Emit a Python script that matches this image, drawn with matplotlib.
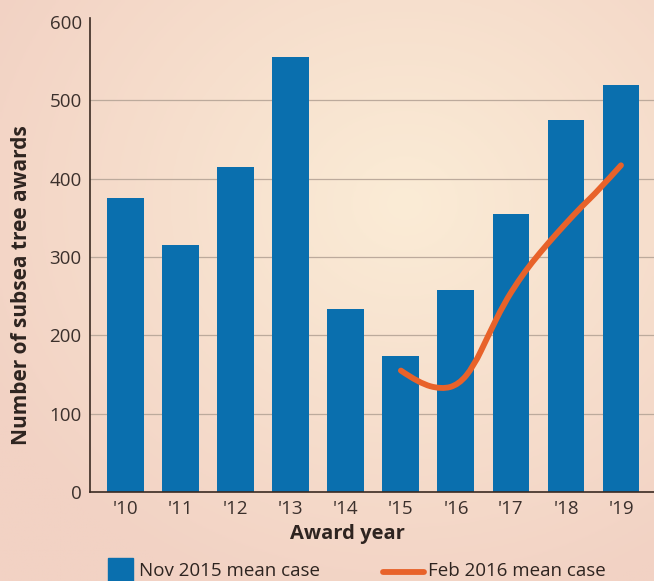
import numpy as np
import matplotlib
matplotlib.use("Agg")
import matplotlib.pyplot as plt
from matplotlib.path import Path
from matplotlib.patches import PathPatch
from matplotlib.patches import Rectangle
from matplotlib.lines import Line2D

years = ["'10", "'11", "'12", "'13", "'14", "'15", "'16", "'17", "'18", "'19"]
nov2015 = [375, 315, 415, 555, 233, 173, 258, 355, 475, 520]

# Feb 2016 curve (x in year-index units)
feb_x = [5.0, 5.33, 5.74, 6.05, 6.32, 6.59, 6.87, 7.14, 7.37, 7.68, 8.0, 8.28, 8.59, 9.0]
feb_y = [155, 139, 131, 137, 160, 200, 240, 270, 292, 318, 343, 364, 385, 417]

yticks = [0, 100, 200, 300, 400, 500, 600]

plt.rcParams['font.family'] = ['Open Sans', 'DejaVu Sans']

W, H = 654, 581
fig = plt.figure(figsize=(W / 100, H / 100), dpi=100)

# background gradient
bg = fig.add_axes([0, 0, 1, 1], zorder=-10)
yy, xx = np.mgrid[0:1:200j, 0:1:200j]
d = np.sqrt(((xx - 0.62) / 0.8) ** 2 + ((yy - 0.35) / 0.8) ** 2)
c_in = np.array([251, 236, 214]) / 255
c_out = np.array([242, 210, 196]) / 255
t = np.clip(d / 0.9, 0, 1)[..., None]
img = c_in * (1 - t) + c_out * t
bg.imshow(img, aspect='auto', extent=[0, 1, 0, 1], origin='upper')
bg.axis('off')

ax = fig.add_axes([90 / W, 1 - 492 / H, (W - 90) / W, (492 - 18) / H])
ax.set_facecolor('none')

x = np.arange(len(years))
ax.bar(x, nov2015, width=0.67, color='#0a6fae', zorder=2)

# smooth orange curve (quadratic Bezier through midpoints)
pts = list(zip(feb_x, feb_y))
verts = [pts[0]]
codes = [Path.MOVETO]
for i in range(1, len(pts) - 1):
    mid = ((pts[i][0] + pts[i + 1][0]) / 2, (pts[i][1] + pts[i + 1][1]) / 2)
    if i == len(pts) - 2:
        mid = pts[i + 1]
    verts += [pts[i], mid]
    codes += [Path.CURVE3, Path.CURVE3]
path = Path(verts, codes)
ax.add_patch(PathPatch(path, facecolor='none', edgecolor='#e8622a', lw=4.2,
                       capstyle='round', joinstyle='round', zorder=3))

ax.set_xlim(-0.65, 9.6)
ax.set_ylim(0, 605)
ax.set_yticks(yticks)
ax.set_xticks(x)
ax.set_xticklabels(years)
ax.yaxis.grid(True, color='#bcaa9c', lw=0.9, zorder=0)
ax.set_axisbelow(True)
gl = ax.get_ygridlines()
gl[0].set_visible(False)
gl[-1].set_visible(False)
for s in ['top', 'right']:
    ax.spines[s].set_visible(False)
for s in ['left', 'bottom']:
    ax.spines[s].set_color('#3a2a22')
    ax.spines[s].set_linewidth(1.2)
ax.tick_params(axis='both', length=0, labelsize=13.5, colors='#3b302c')
ax.tick_params(axis='y', pad=6)
ax.tick_params(axis='x', pad=6)
ax.set_xlabel('Award year', fontsize=14.5, fontweight='bold', color='#2e2420')
ax.set_ylabel('Number of subsea tree awards', fontsize=15, fontweight='bold',
              color='#2e2420')
ax.xaxis.set_label_coords(0.456, -0.068)
ax.yaxis.set_label_coords(-0.103, 0.437)

# legend at bottom
fig.patches.append(Rectangle((108 / W, 1 - 581 / H), 25 / W, 23 / H,
                             transform=fig.transFigure, color='#0a6fae'))
fig.text(139 / W, 1 - 571 / H, 'Nov 2015 mean case', fontsize=13.5,
         color='#2e2420', va='center', ha='left')
fig.lines.append(Line2D([383 / W, 424 / W], [1 - 572 / H, 1 - 572 / H],
                        transform=fig.transFigure, color='#e8622a', lw=4.2,
                        solid_capstyle='round'))
fig.text(428 / W, 1 - 571 / H, 'Feb 2016 mean case', fontsize=13.5,
         color='#2e2420', va='center', ha='left')

fig.savefig('out.png', dpi=100)
